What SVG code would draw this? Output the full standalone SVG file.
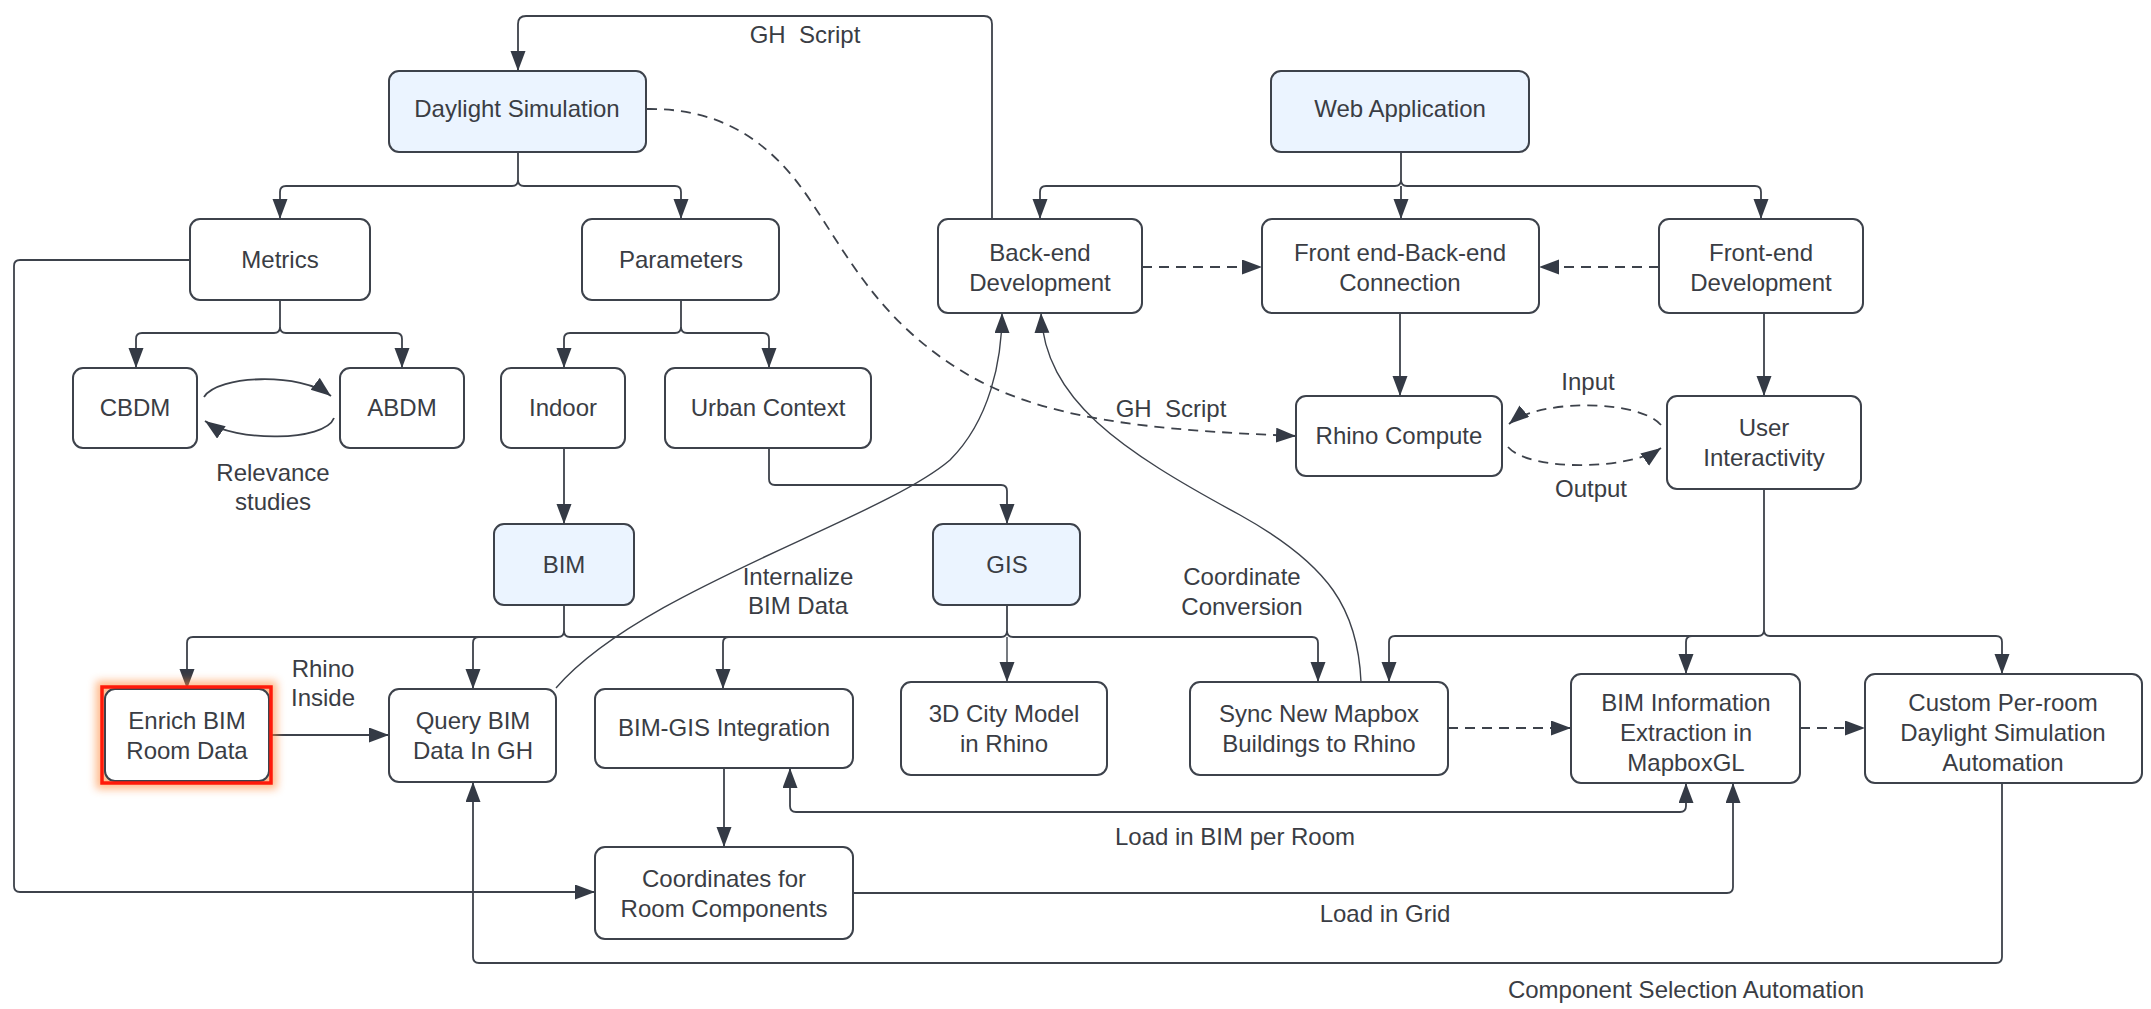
<svg xmlns="http://www.w3.org/2000/svg" width="2151" height="1009" viewBox="0 0 2151 1009">
<style>
.n rect{fill:#ffffff;stroke:#3d424b;stroke-width:2}
.n.b rect{fill:#ebf4ff}
text{font-family:"Liberation Sans",Arial,sans-serif;font-size:24px;fill:#3a3d44;text-anchor:middle;white-space:pre}
.c path{fill:none;stroke:#3d424b;stroke-width:1.8}
.c path.d{stroke-dasharray:10 7}
.c path.t{stroke-width:1.4}
</style>
<defs>
<marker id="ah" markerUnits="userSpaceOnUse" markerWidth="22" markerHeight="16" refX="20" refY="7.5" orient="auto-start-reverse"><path d="M0,0 L20,7.5 L0,15 z" fill="#343a45"/></marker>
<filter id="glow" x="-20%" y="-20%" width="140%" height="140%"><feGaussianBlur stdDeviation="4"/></filter>
</defs>
<rect width="2151" height="1009" fill="#ffffff"/>

<g class="c" id="connectors">
<path d="M992 219 V24 Q992 16 984 16 H526 Q518 16 518 24 V71" marker-end="url(#ah)"/>
<path d="M518 152 V180 Q518 186 512 186 H286 Q280 186 280 192 V219" marker-end="url(#ah)"/>
<path d="M518 180 Q518 186 524 186 H675 Q681 186 681 192 V219" marker-end="url(#ah)"/>
<path d="M280 300 V327 Q280 333 274 333 H142 Q136 333 136 339 V368" marker-end="url(#ah)"/>
<path d="M280 327 Q280 333 286 333 H396 Q402 333 402 339 V368" marker-end="url(#ah)"/>
<path d="M681 300 V327 Q681 333 675 333 H570 Q564 333 564 339 V368" marker-end="url(#ah)"/>
<path d="M681 327 Q681 333 687 333 H763 Q769 333 769 339 V368" marker-end="url(#ah)"/>
<path d="M204 397 C218 375 300 372 331 396" marker-end="url(#ah)"/>
<path d="M334 418 C325 442 235 442 205 421" marker-end="url(#ah)"/>
<path d="M190 260 H20 Q14 260 14 266 V886 Q14 892 20 892 H595" marker-end="url(#ah)"/>
<path d="M564 448 V524" marker-end="url(#ah)"/>
<path d="M769 448 V479 Q769 485 775 485 H1001 Q1007 485 1007 491 V524" marker-end="url(#ah)"/>
<path d="M564 605 V631 Q564 637 558 637 H193 Q187 637 187 643 V689" marker-end="url(#ah)"/>
<path d="M479 637 Q473 637 473 643 V689" marker-end="url(#ah)"/>
<path d="M564 631 Q564 637 570 637 H1001 Q1007 637 1007 631 V605"/>
<path d="M729 637 Q723 637 723 643 V689" marker-end="url(#ah)"/>
<path class="t" d="M1007 637 V682" marker-end="url(#ah)"/>
<path d="M1007 631 Q1007 637 1013 637 H1312 Q1318 637 1318 643 V682" marker-end="url(#ah)"/>
<path d="M1401 152 V180 Q1401 186 1395 186 H1046 Q1040 186 1040 192 V219" marker-end="url(#ah)"/>
<path d="M1401 186 V219" marker-end="url(#ah)"/>
<path d="M1401 180 Q1401 186 1407 186 H1755 Q1761 186 1761 192 V219" marker-end="url(#ah)"/>
<path class="d" d="M1142 267 H1262" marker-end="url(#ah)"/>
<path class="d" d="M1659 267 H1539" marker-end="url(#ah)"/>
<path d="M1400 313 V396" marker-end="url(#ah)"/>
<path d="M1764 313 V396" marker-end="url(#ah)"/>
<path class="d" d="M1661 425 C1640 400 1540 398 1509 424" marker-end="url(#ah)"/>
<path class="d" d="M1508 447 C1530 472 1630 470 1661 448" marker-end="url(#ah)"/>
<path class="d" d="M647 109 C720 108 770 140 810 200 S880 320 960 370 S1150 430 1296 436" marker-end="url(#ah)"/>
<path class="t" d="M556 688 C640 590 880 520 950 460 C990 420 1002 360 1002 313" marker-end="url(#ah)"/>
<path class="t" d="M1361 682 C1358 610 1330 565 1240 515 C1120 450 1045 400 1041 313" marker-end="url(#ah)"/>
<path d="M1764 489 V630 Q1764 636 1758 636 H1395 Q1389 636 1389 642 V682" marker-end="url(#ah)"/>
<path d="M1692 636 Q1686 636 1686 642 V674" marker-end="url(#ah)"/>
<path d="M1764 630 Q1764 636 1770 636 H1996 Q2002 636 2002 642 V674" marker-end="url(#ah)"/>
<path d="M269 735 H389" marker-end="url(#ah)"/>
<path d="M724 768 V847" marker-end="url(#ah)"/>
<path d="M790 768 V806 Q790 812 796 812 H1680 Q1686 812 1686 806 V783" marker-start="url(#ah)" marker-end="url(#ah)"/>
<path d="M853 893 H1727 Q1733 893 1733 887 V783" marker-end="url(#ah)"/>
<path d="M2002 783 V957 Q2002 963 1996 963 H479 Q473 963 473 957 V782" marker-end="url(#ah)"/>
<path class="d" d="M1448 728 H1571" marker-end="url(#ah)"/>
<path class="d" d="M1800 728 H1865" marker-end="url(#ah)"/>
<text x="805" y="43">GH  Script</text>
<text x="273" y="481">Relevance</text>
<text x="273" y="510">studies</text>
<text x="1171" y="417">GH  Script</text>
<text x="1588" y="390">Input</text>
<text x="1591" y="497">Output</text>
<text x="798" y="585">Internalize</text>
<text x="798" y="614">BIM Data</text>
<text x="1242" y="585">Coordinate</text>
<text x="1242" y="615">Conversion</text>
<text x="323" y="677">Rhino</text>
<text x="323" y="706">Inside</text>
<text x="1235" y="845">Load in BIM per Room</text>
<text x="1385" y="922">Load in Grid</text>
<text x="1686" y="998">Component Selection Automation</text>
</g>

<g class="n b" id="daylight"><rect x="389" y="71" width="257" height="81" rx="10"/><text x="517" y="117">Daylight Simulation</text></g>
<g class="n b" id="webapp"><rect x="1271" y="71" width="258" height="81" rx="10"/><text x="1400" y="117">Web Application</text></g>
<g class="n" id="metrics"><rect x="190" y="219" width="180" height="81" rx="10"/><text x="280" y="268">Metrics</text></g>
<g class="n" id="parameters"><rect x="582" y="219" width="197" height="81" rx="10"/><text x="681" y="268">Parameters</text></g>
<g class="n" id="backend"><rect x="938" y="219" width="204" height="94" rx="10"/><text x="1040" y="261">Back-end</text><text x="1040" y="291">Development</text></g>
<g class="n" id="fbconn"><rect x="1262" y="219" width="277" height="94" rx="10"/><text x="1400" y="261">Front end-Back-end</text><text x="1400" y="291">Connection</text></g>
<g class="n" id="frontend"><rect x="1659" y="219" width="204" height="94" rx="10"/><text x="1761" y="261">Front-end</text><text x="1761" y="291">Development</text></g>
<g class="n" id="cbdm"><rect x="73" y="368" width="124" height="80" rx="10"/><text x="135" y="416">CBDM</text></g>
<g class="n" id="abdm"><rect x="340" y="368" width="124" height="80" rx="10"/><text x="402" y="416">ABDM</text></g>
<g class="n" id="indoor"><rect x="501" y="368" width="124" height="80" rx="10"/><text x="563" y="416">Indoor</text></g>
<g class="n" id="urban"><rect x="665" y="368" width="206" height="80" rx="10"/><text x="768" y="416">Urban Context</text></g>
<g class="n" id="rhinocompute"><rect x="1296" y="396" width="206" height="80" rx="10"/><text x="1399" y="444">Rhino Compute</text></g>
<g class="n" id="userinter"><rect x="1667" y="396" width="194" height="93" rx="10"/><text x="1764" y="436">User</text><text x="1764" y="466">Interactivity</text></g>
<g class="n b" id="bim"><rect x="494" y="524" width="140" height="81" rx="10"/><text x="564" y="573">BIM</text></g>
<g class="n b" id="gis"><rect x="933" y="524" width="147" height="81" rx="10"/><text x="1007" y="573">GIS</text></g>
<g id="enrich">
<rect x="102" y="687" width="169" height="96" fill="none" stroke="#ff8a3a" stroke-width="12" opacity="0.6" filter="url(#glow)"/>
<g class="n"><rect x="105" y="689" width="164" height="92" rx="10"/></g>
<rect x="102" y="687" width="169" height="96" fill="none" stroke="#ff1a0a" stroke-width="3.5"/>
<text x="187" y="729">Enrich BIM</text><text x="187" y="759">Room Data</text>
</g>
<g class="n" id="query"><rect x="389" y="689" width="167" height="93" rx="10"/><text x="473" y="729">Query BIM</text><text x="473" y="759">Data In GH</text></g>
<g class="n" id="bimgis"><rect x="595" y="689" width="258" height="79" rx="10"/><text x="724" y="736">BIM-GIS Integration</text></g>
<g class="n" id="city3d"><rect x="901" y="682" width="206" height="93" rx="10"/><text x="1004" y="722">3D City Model</text><text x="1004" y="752">in Rhino</text></g>
<g class="n" id="sync"><rect x="1190" y="682" width="258" height="93" rx="10"/><text x="1319" y="722">Sync New Mapbox</text><text x="1319" y="752">Buildings to Rhino</text></g>
<g class="n" id="bimextract"><rect x="1571" y="674" width="229" height="109" rx="10"/><text x="1686" y="711">BIM Information</text><text x="1686" y="741">Extraction in</text><text x="1686" y="771">MapboxGL</text></g>
<g class="n" id="custom"><rect x="1865" y="674" width="277" height="109" rx="10"/><text x="2003" y="711">Custom Per-room</text><text x="2003" y="741">Daylight Simulation</text><text x="2003" y="771">Automation</text></g>
<g class="n" id="coords"><rect x="595" y="847" width="258" height="92" rx="10"/><text x="724" y="887">Coordinates for</text><text x="724" y="917">Room Components</text></g>
</svg>
